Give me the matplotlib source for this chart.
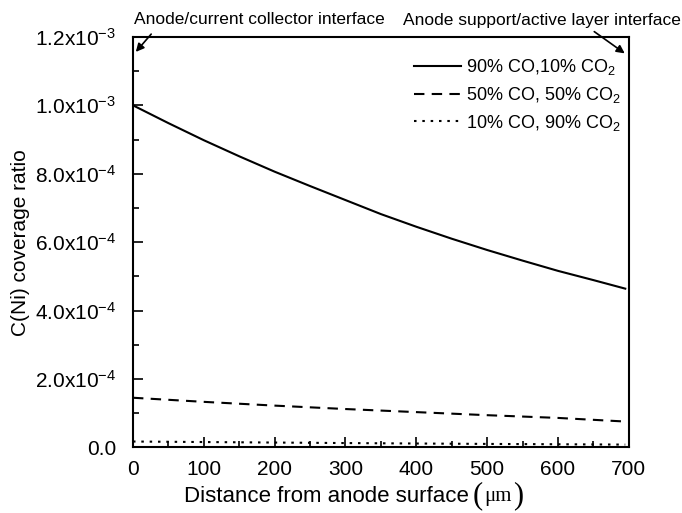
import matplotlib
matplotlib.use("Agg")
import matplotlib.pyplot as plt
from matplotlib.ticker import MultipleLocator

plt.rcParams['font.family'] = ['Liberation Sans', 'DejaVu Sans']
plt.rcParams['mathtext.fontset'] = 'custom'
plt.rcParams['mathtext.rm'] = 'Liberation Sans'
plt.rcParams['mathtext.it'] = 'Liberation Sans:italic'

# data
x_solid = [0, 50, 100, 150, 200, 250, 300, 350, 400, 450, 500, 550, 600, 650, 695]
y_solid = [1.000e-3, 0.948e-3, 0.898e-3, 0.851e-3, 0.806e-3, 0.764e-3, 0.723e-3,
           0.682e-3, 0.645e-3, 0.610e-3, 0.577e-3, 0.546e-3, 0.516e-3, 0.489e-3, 0.464e-3]
x_dash = [0, 100, 200, 300, 400, 500, 600, 690]
y_dash = [1.45e-4, 1.33e-4, 1.22e-4, 1.12e-4, 1.03e-4, 0.94e-4, 0.86e-4, 0.76e-4]
x_dot = [0, 100, 200, 300, 400, 500, 600, 695]
y_dot = [1.7e-5, 1.55e-5, 1.4e-5, 1.25e-5, 1.12e-5, 1.0e-5, 0.9e-5, 0.8e-5]
labels = ["90% CO,10% CO$_2$", "50% CO, 50% CO$_2$", "10% CO, 90% CO$_2$"]

xticks = [0, 100, 200, 300, 400, 500, 600, 700]
yticks = [0.0, 2e-4, 4e-4, 6e-4, 8e-4, 1.0e-3, 1.2e-3]
ytick_labels = ["0.0", "2.0x10$^{-4}$", "4.0x10$^{-4}$", "6.0x10$^{-4}$",
                "8.0x10$^{-4}$", "1.0x10$^{-3}$", "1.2x10$^{-3}$"]

fig = plt.figure(figsize=(6.82, 5.13), dpi=100)
ax = fig.add_axes([0.195, 0.128, 0.727, 0.800])

ax.plot(x_solid, y_solid, color='black', lw=1.5, ls='-', label=labels[0])
ax.plot(x_dash, y_dash, color='black', lw=1.5, ls=(0, (5, 3.5)), label=labels[1])
ax.plot(x_dot, y_dot, color='black', lw=1.5, ls=(0, (1.2, 2.8)), label=labels[2])

ax.set_xlim(0, 700)
ax.set_ylim(0, 1.2e-3)
ax.set_xticks(xticks)
ax.set_xticklabels([str(v) for v in xticks])
ax.set_yticks(yticks)
ax.set_yticklabels(ytick_labels)
ax.xaxis.set_minor_locator(MultipleLocator(50))
ax.yaxis.set_minor_locator(MultipleLocator(1e-4))
ax.tick_params(which='both', direction='in', top=False, right=False, labelsize=15, width=1.2)
ax.tick_params(axis='x', which='major', length=7, pad=9)
ax.tick_params(axis='y', which='major', length=7, pad=12)
ax.tick_params(which='minor', length=4)
for s in ax.spines.values():
    s.set_linewidth(1.5)

ax.set_ylabel("C(Ni) coverage ratio", fontsize=15, labelpad=4)

# x label pieces
ylab = 1 - 497 / 513
t1 = fig.text(184 / 682, ylab, "Distance from anode surface", fontsize=16, ha='left', va='center')
a2 = ax.annotate("(", xy=(1, 0.5), xycoords=t1, xytext=(3, 1), textcoords='offset points',
                 fontsize=22, family='Liberation Serif', ha='left', va='center')
a3 = ax.annotate("\u03bcm", xy=(1, 0.5), xycoords=a2, xytext=(1, -1), textcoords='offset points',
                 fontsize=15, family='Liberation Serif', ha='left', va='center')
a4 = ax.annotate(")", xy=(1, 0.5), xycoords=a3, xytext=(1, 1), textcoords='offset points',
                 fontsize=22, family='Liberation Serif', ha='left', va='center')

leg = ax.legend(loc='upper left', bbox_to_anchor=(0.567, 0.95), frameon=False, fontsize=13,
                handlelength=2.6, handletextpad=0.3, labelspacing=0.42, borderpad=0,
                borderaxespad=0)

fig.text(134 / 682, 1 - 20 / 513, "Anode/current collector interface", fontsize=12.5,
         ha='left', va='center')
fig.text(681 / 682, 1 - 20 / 513, "Anode support/active layer interface", fontsize=12.5,
         ha='right', va='center')
ax.annotate("", xy=(134 / 682, 1 - 54 / 513), xytext=(153 / 682, 1 - 32 / 513),
            xycoords='figure fraction', textcoords='figure fraction',
            arrowprops=dict(arrowstyle='-|>', color='black', lw=1.2, mutation_scale=12))
ax.annotate("", xy=(627 / 682, 1 - 55 / 513), xytext=(592 / 682, 1 - 30 / 513),
            xycoords='figure fraction', textcoords='figure fraction',
            arrowprops=dict(arrowstyle='-|>', color='black', lw=1.2, mutation_scale=12))

fig.savefig("out.png", dpi=100)
